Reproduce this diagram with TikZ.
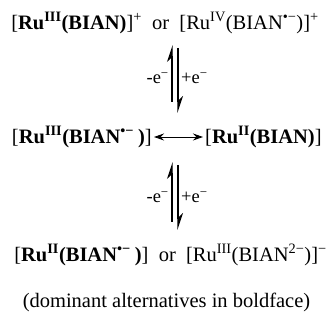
\documentclass[tikz,border=0pt]{standalone}
\usepackage{fontspec}
\setmainfont{Liberation Serif}
\usetikzlibrary{arrows.meta}
\newcommand{\sups}[1]{\textsuperscript{#1}}
\newcommand{\rad}{\textsuperscript{•−}}
\begin{document}
\begin{tikzpicture}[x=1pt,y=1pt,
  species/.style={inner sep=0pt, font=\fontsize{20.5}{24}\selectfont},
  elabel/.style={inner sep=0pt, font=\fontsize{18.5}{22}\selectfont},
  fwd/.style={line width=1.3pt, -{Stealth[harpoon,length=15pt,width=10pt]}},
  dbl/.style={line width=0.9pt, shorten <=2pt, shorten >=2pt,
    {Stealth[length=10pt,width=7pt]}-{Stealth[length=10pt,width=7pt]}}]
\useasboundingbox (0,0) rectangle (333,320);

% oxidised form
\node[species] (ox) at (165,297)
  {[\textbf{Ru\sups{III}(BIAN)}]\sups{+}\enspace or\enspace [Ru\sups{IV}(BIAN\rad)]\sups{+}};

% resonance pair
\node[species, anchor=east] (resL) at (152,183)
  {[\textbf{Ru\sups{III}(BIAN\rad\hspace{0.2em})}]};
\node[species, anchor=west] (resR) at (205,183)
  {[\textbf{Ru\sups{II}(BIAN)}]};
\draw[dbl] (resL.east) -- (resR.west);

% reduced form
\node[species] (red) at (170.5,65)
  {[\textbf{Ru\sups{II}(BIAN\rad\hspace{0.2em})}]\enspace or\enspace [Ru\sups{III}(BIAN\sups{2−})]\sups{−}};

% caption
\node[species] (cap) at (166.5,18) {(dominant alternatives in boldface)};

% upper equilibrium
\coordinate (u1) at (172,218); \coordinate (u2) at (172,275);
\coordinate (d1) at (178,272); \coordinate (d2) at (178,207);
\draw[fwd] (u1) -- (u2);
\draw[fwd] (d1) -- (d2);
\node[elabel, anchor=east] (ma) at (169,242) {-e\sups{−}};
\node[elabel, anchor=west] (pa) at (181,242) {+e\sups{−}};

% lower equilibrium
\coordinate (u3) at (172,98); \coordinate (u4) at (172,158);
\coordinate (d3) at (178,155); \coordinate (d4) at (178,90);
\draw[fwd] (u3) -- (u4);
\draw[fwd] (d3) -- (d4);
\node[elabel, anchor=east] (mb) at (169,123) {-e\sups{−}};
\node[elabel, anchor=west] (pb) at (181,123) {+e\sups{−}};
\end{tikzpicture}
\end{document}
